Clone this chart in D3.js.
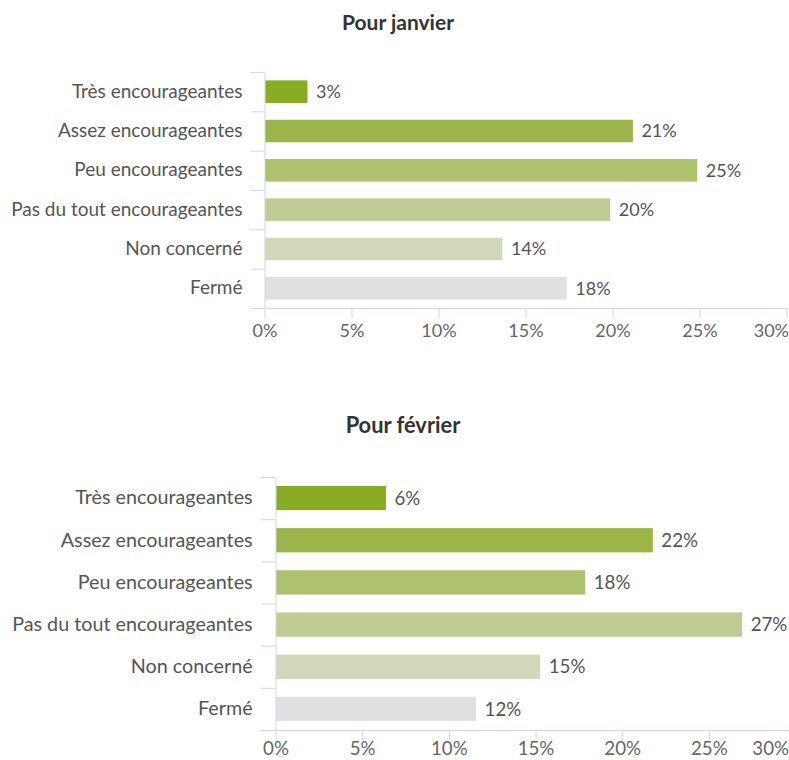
<!DOCTYPE html>
<html>
<head>
<meta charset="utf-8">
<script src="https://cdn.jsdelivr.net/npm/d3@7"></script>
<style>
  body { margin: 0; background: #fff; }
  svg { display: block; font-family: Lato, "Open Sans", sans-serif; }
</style>
</head>
<body>
<div id="chart"></div>
<script>
// categories (top to bottom)
const categories = [
    "Très encourageantes",
    "Assez encourageantes",
    "Peu encourageantes",
    "Pas du tout encourageantes",
    "Non concerné",
    "Fermé"
];

// bar lengths (%)
const janValues = [2.5, 21.2, 24.9, 19.9, 13.7, 17.4];
const fevValues = [6.4, 21.8, 17.9, 26.95, 15.3, 11.6];

// printed data labels
const janLabels = ["3%", "21%", "25%", "20%", "14%", "18%"];
const fevLabels = ["6%", "22%", "18%", "27%", "15%", "12%"];

// x axis ticks
const xTicks = [0, 5, 10, 15, 20, 25, 30];

const barColors = ["#8aab24", "#9cb548", "#aec26e", "#bfcd94", "#d1d8b9", "#e0e0e0"];

const width = 789;
const height = 760;
const axisColor = "#ccd6eb";

const svg = d3.select("#chart")
    .append("svg")
    .attr("width", width)
    .attr("height", height);

// -----------------------------
// one horizontal bar panel
// -----------------------------
const drawPanel = (opts) => {
    const { title, values, labels, titleX, titleY, top, bottom, left, right, k, tickPad, lastLabelEnd } = opts;

    const g = svg.append("g");

    const x = d3.scaleLinear()
        .domain([0, 30])
        .range([left, right]);

    const y = d3.scaleBand()
        .domain(categories)
        .range([top, bottom])
        .paddingInner(0.4)
        .paddingOuter(0.2);

    // title
    g.append("text")
        .attr("x", titleX)
        .attr("y", titleY)
        .attr("text-anchor", "middle")
        .attr("fill", "#333")
        .style("font-size", (21 * k) + "px")
        .style("font-weight", "bold")
        .text(title);

    // bars
    g.selectAll("rect.bar")
        .data(values)
        .join("rect")
        .attr("class", "bar")
        .attr("x", x(0))
        .attr("y", (d, i) => y(categories[i]))
        .attr("width", d => x(d) - x(0))
        .attr("height", y.bandwidth())
        .attr("fill", (d, i) => barColors[i])
        .attr("stroke", "#fff")
        .attr("stroke-width", 1);

    // data labels
    g.selectAll("text.val")
        .data(values)
        .join("text")
        .attr("class", "val")
        .attr("x", d => x(d) + 8)
        .attr("y", (d, i) => y(categories[i]) + y.bandwidth() / 2)
        .attr("dy", "0.36em")
        .attr("fill", "#555")
        .style("font-size", (18 * k) + "px")
        .text((d, i) => labels[i]);

    // category boundary ticks (left axis)
    const yIdx = d3.scaleLinear()
        .domain([0, categories.length])
        .range([top, bottom]);

    const leftAxis = g.append("g")
        .attr("transform", `translate(${x(0)},0)`)
        .call(d3.axisLeft(yIdx)
            .tickValues(d3.range(categories.length + 1))
            .tickFormat("")
            .tickSize(14 * k)
            .tickSizeOuter(0));
    leftAxis.selectAll("path, line").attr("stroke", axisColor);

    // category labels
    const catAxis = g.append("g")
        .attr("transform", `translate(${x(0)},0)`)
        .call(d3.axisLeft(y).tickSize(0).tickPadding(22 * k));
    catAxis.select(".domain").remove();
    catAxis.selectAll("text")
        .attr("fill", "#555")
        .style("font-size", (19 * k) + "px")
        .style("font-family", "Lato, sans-serif");

    // x axis
    const xAxis = g.append("g")
        .attr("transform", `translate(0,${bottom})`)
        .call(d3.axisBottom(x)
            .tickValues(xTicks)
            .tickFormat(d => d + "%")
            .tickSize(10 * k)
            .tickSizeOuter(0)
            .tickPadding(tickPad));
    xAxis.selectAll("path, line").attr("stroke", axisColor);
    xAxis.selectAll("text")
        .attr("fill", "#666")
        .style("font-size", (18 * k) + "px")
        .style("font-family", "Lato, sans-serif");

    // last tick label pushed inside the frame
    xAxis.selectAll(".tick")
        .filter(d => d === xTicks[xTicks.length - 1])
        .select("text")
        .attr("text-anchor", "end")
        .attr("x", lastLabelEnd - x(xTicks[xTicks.length - 1]));
};

drawPanel({
    title: "Pour janvier",
    values: janValues,
    labels: janLabels,
    titleX: 398,
    titleY: 30,
    top: 72,
    bottom: 308,
    left: 264.5,
    right: 786.5,
    k: 1,
    tickPad: 6,
    lastLabelEnd: 788.5
});

drawPanel({
    title: "Pour février",
    values: fevValues,
    labels: fevLabels,
    titleX: 403,
    titleY: 433,
    top: 477,
    bottom: 730,
    left: 275.5,
    right: 795.5,
    k: 1.04,
    tickPad: 1,
    lastLabelEnd: 788.5
});
</script>
</body>
</html>
